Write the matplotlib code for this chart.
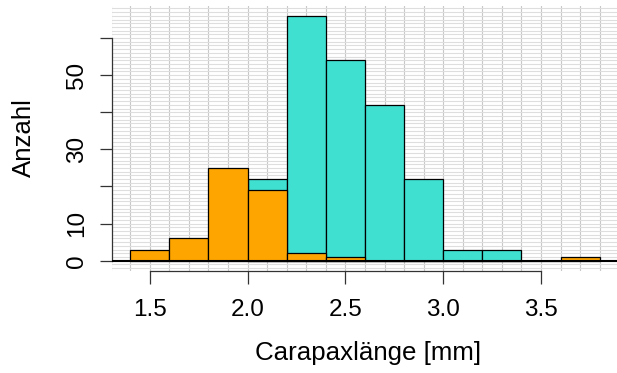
import numpy as np
import matplotlib
matplotlib.use('Agg')
import matplotlib.pyplot as plt

plt.rcParams['font.family'] = ['Liberation Sans', 'DejaVu Sans']

# bin edges (width 0.2) and counts
orange_edges = [1.4, 1.6, 1.8, 2.0, 2.2, 2.4, 2.6, 2.8, 3.0, 3.2, 3.4, 3.6, 3.8]
orange_counts = [3, 6, 25, 19, 2, 1, 0, 0, 0, 0, 0, 1]
turq_edges = [2.0, 2.2, 2.4, 2.6, 2.8, 3.0, 3.2, 3.4]
turq_counts = [22, 66, 54, 42, 22, 3, 3]

xticks = [1.5, 2.0, 2.5, 3.0, 3.5]
yticks = [0, 10, 20, 30, 40, 50, 60]
yticklabels = ['0', '10', '', '30', '', '50', '']

W, H = 617, 373
fig = plt.figure(figsize=(W / 100, H / 100), dpi=100)

# plot region in pixels (R style, 4% extension)
x0, x1 = 1.304, 3.896
y0, y1 = -2.64, 68.64
left, right = 111.5, 618.4
top, bottom = 6.0, 270.5
ax = fig.add_axes([left / W, 1 - bottom / H, (right - left) / W, (bottom - top) / H])
ax.set_xlim(x0, x1)
ax.set_ylim(y0, y1)
ax.patch.set_alpha(0)

# background grid
for gx in np.arange(1.3, 3.95, 0.1):
	ax.axvline(gx, color='#c8c8c8', lw=0.8, zorder=0)
for gy in np.arange(-2, 69, 1):
	ax.axhline(gy, color='#dedede', lw=0.8, zorder=0)

def hist(edges, counts, col):
	e = np.array(edges)
	ax.bar(e[:-1], counts, width=np.diff(e), align='edge', color=col,
		edgecolor='black', linewidth=0.9, zorder=2)

hist(turq_edges, turq_counts, '#40E0D0')
hist(orange_edges, orange_counts, '#FFA500')

ax.axhline(0, color='black', lw=1.5, zorder=3)

for s in ['top', 'right']:
	ax.spines[s].set_visible(False)
ax.spines['left'].set_bounds(0, 60)
ax.spines['bottom'].set_bounds(1.5, 3.5)
for s in ['left', 'bottom']:
	ax.spines[s].set_linewidth(0.9)
	ax.spines[s].set_color('#333333')

ax.set_xticks(xticks)
ax.set_xticklabels([f'{v:.1f}' for v in xticks])
ax.set_yticks(yticks)
ax.set_yticklabels(yticklabels, rotation=90, va='center')
ax.tick_params(axis='both', length=9, width=0.9, color='#333333', labelsize=17.5)
ax.tick_params(axis='x', pad=11.5)
ax.tick_params(axis='y', pad=8)

fig.text(368 / W, 1 - 353 / H, 'Carapaxlänge [mm]', fontsize=18.6, ha='center', va='center')
fig.text(24 / W, 1 - 137.5 / H, 'Anzahl', fontsize=18.6, rotation=90, ha='center', va='center')

fig.savefig('out.png', dpi=100)
